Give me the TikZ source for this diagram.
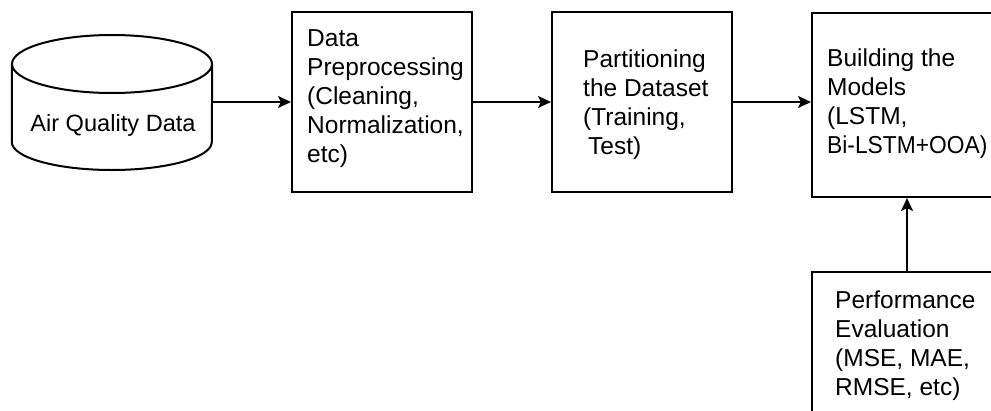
\documentclass[tikz,border=0pt]{standalone}
\usepackage{fontspec}
\usepackage{graphicx}
\setmainfont{Liberation Sans}
\usetikzlibrary{arrows.meta}
\begin{document}
\begin{tikzpicture}[x=1pt,y=-1pt,
  box/.style={draw, line width=2pt, rectangle, inner sep=0pt},
  txt/.style={inner sep=0pt, align=left, font=\fontsize{24.5}{29}\selectfont, anchor=base west},
  arr/.style={line width=2pt, -{Stealth[length=13pt,width=12pt,inset=3pt]}}]
\useasboundingbox (0,0) rectangle (991,410);
\clip (0,0) rectangle (991,410);
% cylinder
\node[minimum width=200pt, minimum height=136pt, inner sep=0pt] (db) at (112,102) {};
\draw[line width=2pt] (db.north west |- 0,64) -- (db.north west |- 0,142)
  arc[start angle=180, end angle=360, x radius=100pt, y radius=28pt] -- (db.north east |- 0,64);
\draw[line width=2pt] (112,64) ellipse [x radius=100pt, y radius=29pt];
\node[txt, anchor=base, font=\fontsize{23.6}{29}\selectfont] (dbt) at (113,131) {Air Quality Data};
% boxes
\node[box, minimum width=180pt, minimum height=180pt] (b1) at (382,102) {};
\node[box, minimum width=180pt, minimum height=180pt] (b2) at (642,102) {};
\node[box, minimum width=190pt, minimum height=184pt] (b3) at (907,105) {};
\node[box, minimum width=190pt, minimum height=188pt] (b4) at (907,366) {};
% texts (anchored at the baseline of their last line)
\node[txt] (t1) at (307,162) {Data\\Preprocessing\\(Cleaning,\\Normalization,\\etc)};
\node[txt] (t2) at (583,154) {Partitioning\\the Dataset\\(Training,\\\hspace*{5pt}Test)};
\node[txt] (t3) at (827,153) {Building the\\Models\\(LSTM,\\\scalebox{0.93}[1]{Bi-LSTM+OOA)}};
\node[txt] (t4) at (835,395) {Performance\\Evaluation\\(MSE, MAE,\\RMSE, etc)};
% arrows
\draw[arr] (db.east) -- (db.east -| b1.west);
\draw[arr] (b1.east) -- (b2.west);
\draw[arr] (b2.east) -- (b3.west |- b2.east);
\draw[arr] (b4.north) -- (b3.south);
\end{tikzpicture}
\end{document}
